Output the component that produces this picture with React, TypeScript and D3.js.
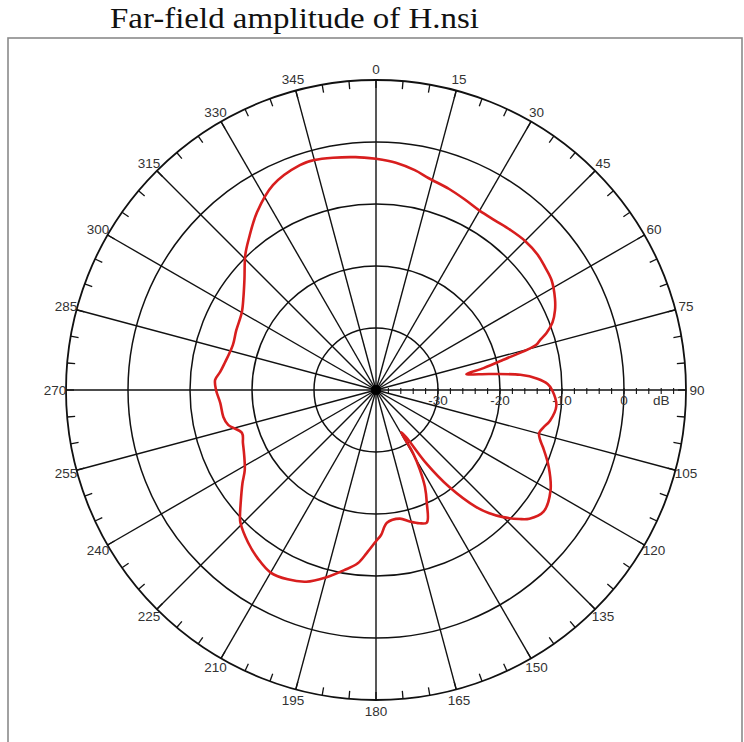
import React, { useEffect, useRef } from 'react';
import * as d3 from 'd3';

// far-field pattern (angle in degrees, amplitude in dB)
const angles = [
  0, 5, 10, 14, 20, 25, 30, 35, 40, 45, 50, 54, 58, 63, 66, 69, 71.5, 73, 74.3, 76.7,
  78.5, 80, 82, 84, 86, 88, 90, 95, 100, 102.5, 104.8, 107, 109, 114, 120, 126, 130,
  132, 135, 137.5, 139.5, 143, 145.6, 147.4, 149.2, 149.6, 151.2, 153.2, 155.8, 159,
  162, 165.6, 169.5, 175.3, 178, 180, 183.2, 186, 190, 195, 200, 205, 210, 215, 220,
  225.6, 227, 230, 235, 238.6, 243.8, 248.3, 252.2, 256.7, 260, 265.2, 270, 273.6,
  276.6, 280, 287.5, 293, 300, 305, 310, 315.9, 320, 326.2, 333.3, 341.3, 345, 349.5,
  355, 360,
];
const amplitude = [
  -2.7, -3.2, -4.0, -4.8, -5.5, -6.1, -6.6, -6.6, -6.3, -6.0, -6.0, -6.3, -6.6, -7.6,
  -8.4, -9.5, -11.0, -12.3, -13.2, -19.0, -22.3, -25.2, -21.5, -16.6, -13.9, -12.3,
  -11.6, -10.8, -11.5, -12.3, -12.8, -12.3, -11.5, -9.5, -7.5, -6.6, -7.7, -8.9, -11.0,
  -13.1, -15.2, -20.5, -25.7, -31.0, -32.1, -28.2, -25.3, -22.5, -20.0, -17.1, -17.4,
  -18.1, -18.9, -18.5, -16.6, -15.6, -13.7, -11.9, -10.5, -8.7, -7.1, -6.3, -6.0, -6.8,
  -7.9, -9.4, -10.0, -11.5, -13.7, -15.2, -16.3, -16.9, -17.3, -15.5, -15.0, -14.8,
  -14.2, -14.0, -14.7, -15.2, -15.8, -15.5, -15.0, -13.9, -12.3, -9.7, -8.1, -5.5, -3.0,
  -1.7, -1.6, -1.9, -2.3, -2.7,
];

const rings = [-30, -20, -10, 0, 10];
const ringLabels = [-30, -20, -10, 0];
const spokeAngles = d3.range(0, 360, 15);
const minorAngles = d3.range(0, 360, 5);
const axisTicks = d3.range(-38, 10, 2);

const title = 'Far-field amplitude of H.nsi';

const W = 744;
const H = 742;
const cx = 376;
const cy = 390;
const R = 310;

export default function App() {
  const ref = useRef<SVGSVGElement>(null);

  useEffect(() => {
    const svg = d3.select(ref.current);
    svg.selectAll('*').remove();

    svg.append('rect').attr('width', W).attr('height', H).attr('fill', '#fff');

    svg
      .append('text')
      .attr('x', 110)
      .attr('y', 28)
      .attr('font-family', '"Liberation Serif", "Times New Roman", serif')
      .attr('font-size', 29)
      .attr('textLength', 369)
      .attr('lengthAdjust', 'spacingAndGlyphs')
      .attr('fill', '#111')
      .text(title);

    // frame
    svg
      .append('rect')
      .attr('x', 8)
      .attr('y', 38)
      .attr('width', 734)
      .attr('height', 740)
      .attr('fill', 'none')
      .attr('stroke', '#8a8a8a')
      .attr('stroke-width', 1.6);

    const r = d3.scaleLinear().domain([-40, 10]).range([0, R]);
    const rad = (a: number) => (a * Math.PI) / 180;

    const g = svg.append('g').attr('transform', `translate(${cx},${cy})`);

    // rings
    g.selectAll('circle.ring')
      .data(rings)
      .enter()
      .append('circle')
      .attr('class', 'ring')
      .attr('r', d => r(d))
      .attr('fill', 'none')
      .attr('stroke', '#111')
      .attr('stroke-width', d => (d === 10 ? 1.8 : 1.5));

    // spokes
    g.selectAll('line.spoke')
      .data(spokeAngles)
      .enter()
      .append('line')
      .attr('class', 'spoke')
      .attr('x1', 0)
      .attr('y1', 0)
      .attr('x2', d => R * Math.sin(rad(d)))
      .attr('y2', d => -R * Math.cos(rad(d)))
      .attr('stroke', '#111')
      .attr('stroke-width', 1.4);

    // minor ticks on outer ring
    g.selectAll('line.minor')
      .data(minorAngles)
      .enter()
      .append('line')
      .attr('class', 'minor')
      .attr('x1', d => R * Math.sin(rad(d)))
      .attr('y1', d => -R * Math.cos(rad(d)))
      .attr('x2', d => (R - 8) * Math.sin(rad(d)))
      .attr('y2', d => -(R - 8) * Math.cos(rad(d)))
      .attr('stroke', '#111')
      .attr('stroke-width', 1.3);

    // angle labels
    g.selectAll('text.ang')
      .data(spokeAngles)
      .enter()
      .append('text')
      .attr('class', 'ang')
      .attr('x', d => (R + 11) * Math.sin(rad(d)))
      .attr('y', d => -(R + 11) * Math.cos(rad(d)))
      .attr('text-anchor', 'middle')
      .attr('dominant-baseline', 'central')
      .attr('font-family', '"Liberation Sans", Arial, sans-serif')
      .attr('font-size', 13.5)
      .attr('fill', '#333')
      .text(d => String(d));

    // radial axis ticks along 90 deg
    g.selectAll('line.atick')
      .data(axisTicks)
      .enter()
      .append('line')
      .attr('class', 'atick')
      .attr('x1', d => r(d))
      .attr('x2', d => r(d))
      .attr('y1', -2)
      .attr('y2', 4)
      .attr('stroke', '#111')
      .attr('stroke-width', 1.1);

    g.selectAll('text.db')
      .data(ringLabels)
      .enter()
      .append('text')
      .attr('class', 'db')
      .attr('x', d => r(d))
      .attr('y', 15)
      .attr('text-anchor', 'middle')
      .attr('font-family', '"Liberation Sans", Arial, sans-serif')
      .attr('font-size', 13.5)
      .attr('fill', '#333')
      .text(d => String(d));

    g.append('text')
      .attr('x', r(6))
      .attr('y', 15)
      .attr('text-anchor', 'middle')
      .attr('font-family', '"Liberation Sans", Arial, sans-serif')
      .attr('font-size', 13.5)
      .attr('fill', '#333')
      .text('dB');

    g.append('circle').attr('r', 5).attr('fill', '#000');

    // pattern
    const pts = angles.map((a, i) => [a, amplitude[i]] as [number, number]);
    const line = d3
      .lineRadial<[number, number]>()
      .angle(d => rad(d[0]))
      .radius(d => r(d[1]))
      .curve(d3.curveCatmullRom.alpha(0.5));

    g.append('path')
      .attr('d', line(pts) as string)
      .attr('fill', 'none')
      .attr('stroke', '#d81e1e')
      .attr('stroke-width', 2.6)
      .attr('stroke-linejoin', 'round');
  }, []);

  return (
    <svg
      ref={ref}
      width={W}
      height={H}
      style={{ position: 'absolute', left: 0, top: 0, display: 'block' }}
    />
  );
}
